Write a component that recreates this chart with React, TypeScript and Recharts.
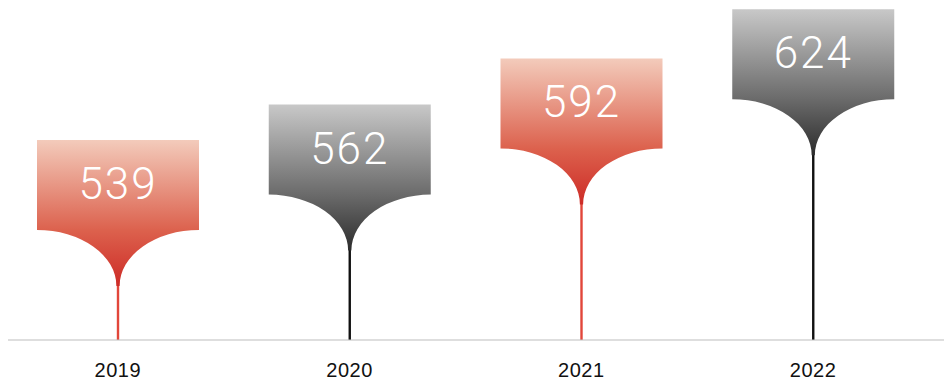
import { BarChart, Bar, XAxis, YAxis } from 'recharts'

const years = ['2019', '2020', '2021', '2022']
const totals = [539, 562, 592, 624]
const themes = ['red', 'gray', 'red', 'gray']

const data = years.map((year, i) => ({ year, total: totals[i], theme: themes[i] }))

const stemColor: Record<string, string> = { red: '#e2463a', gray: '#111111' }

// rect 162 wide, 90 tall, then an elliptical funnel down to a thin stem
function PinShape(props: any) {
  const { x, y, width, height, payload } = props
  const cx = x + width / 2
  const half = 81
  const boxH = 90
  const funnelH = 56
  const neck = 1.6
  const base = y + height
  const top = y
  const b = top + boxH
  const f = b + funnelH
  const d = [
    `M${cx - half},${top}`,
    `H${cx + half}`,
    `V${b}`,
    `A${half - neck},${funnelH} 0 0 0 ${cx + neck},${f}`,
    `L${cx - neck},${f}`,
    `A${half - neck},${funnelH} 0 0 0 ${cx - half},${b}`,
    'Z',
  ].join(' ')
  return (
    <g>
      <rect x={cx - 1.2} y={f - 4} width={2.4} height={base - f + 4} fill={stemColor[payload.theme]} />
      <path d={d} fill={`url(#pin-${payload.theme})`} />
      <text
        x={cx}
        y={top + 44}
        textAnchor="middle"
        dominantBaseline="central"
        fill="#ffffff"
        fontSize={44}
        fontWeight={300}
        letterSpacing={2}
        fontFamily="Roboto, 'Liberation Sans', sans-serif"
      >
        {payload.total}
      </text>
    </g>
  )
}

export default function App() {
  return (
    <div style={{ position: 'absolute', left: 0, top: 0 }}>
      <BarChart
        width={944}
        height={380}
        data={data}
        margin={{ top: 0, right: 0, bottom: 0, left: 8 }}
      >
        <defs>
          <linearGradient id="pin-red" x1="0" y1="0" x2="0" y2="1">
            <stop offset="0%" stopColor="#f3cbbb" />
            <stop offset="62%" stopColor="#dc614d" />
            <stop offset="100%" stopColor="#cd2b26" />
          </linearGradient>
          <linearGradient id="pin-gray" x1="0" y1="0" x2="0" y2="1">
            <stop offset="0%" stopColor="#c8c8c8" />
            <stop offset="62%" stopColor="#6a6a6a" />
            <stop offset="100%" stopColor="#2c2c2c" />
          </linearGradient>
        </defs>
        <XAxis
          dataKey="year"
          height={40}
          axisLine={{ stroke: '#bdbdbd', strokeWidth: 1 }}
          tickLine={false}
          tickSize={0}
          tickMargin={23}
          padding={{ left: -6, right: 15 }}
          tick={{ fill: '#111111', fontSize: 20, letterSpacing: 0.6, fontFamily: "'Liberation Sans', Arial, sans-serif" }}
        />
        <YAxis hide domain={[409, 630]} allowDataOverflow />
        <Bar dataKey="total" barSize={162} shape={<PinShape />} isAnimationActive={false} />
      </BarChart>
    </div>
  )
}
